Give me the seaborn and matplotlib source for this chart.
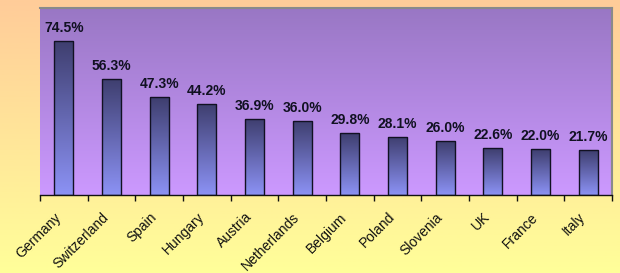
import numpy as np
import pandas as pd
import matplotlib
matplotlib.use("Agg")
import matplotlib.pyplot as plt
from matplotlib.colors import LinearSegmentedColormap
import seaborn as sns

countries = ["Germany", "Switzerland", "Spain", "Hungary", "Austria", "Netherlands",
             "Belgium", "Poland", "Slovenia", "UK", "France", "Italy"]
values = [74.5, 56.3, 47.3, 44.2, 36.9, 36.0, 29.8, 28.1, 26.0, 22.6, 22.0, 21.7]

df = pd.DataFrame({"country": countries, "value": values})

sns.set_theme(style="white")
plt.rcParams['font.family'] = ['Liberation Sans', 'DejaVu Sans']

fig = plt.figure(figsize=(6.2, 2.73), dpi=100)

# figure background gradient (orange top -> yellow bottom)
bg = fig.add_axes([0, 0, 1, 1], zorder=-10)
bg_cmap = LinearSegmentedColormap.from_list("bg", ["#FFFF99", "#FFCC99"])
grad = np.linspace(0, 1, 256).reshape(-1, 1)
bg.imshow(grad, aspect="auto", cmap=bg_cmap, origin="lower", extent=[0, 1, 0, 1])
bg.set_axis_off()

ax = fig.add_axes([40/620, 1 - 195/273, 572/620, 187/273])
ax.patch.set_alpha(0)

# plot area gradient
pa_cmap = LinearSegmentedColormap.from_list("pa", ["#CC99FF", "#9977C4"])
ax.imshow(grad, aspect="auto", cmap=pa_cmap, origin="lower",
          extent=[0, 1, 0, 1], transform=ax.transAxes, zorder=0)

sns.barplot(data=df, x="country", y="value", ax=ax, width=0.4,
            color="#555588", edgecolor="#111122", linewidth=1.0, zorder=2)

bar_cmap = LinearSegmentedColormap.from_list("bar", ["#8C92F5", "#3E3E6E"])
for p in ax.patches:
    x0, y0 = p.get_x(), p.get_y()
    w, h = p.get_width(), p.get_height()
    im = ax.imshow(grad, aspect="auto", cmap=bar_cmap, origin="lower",
                   extent=[x0, x0 + w, y0, y0 + h], zorder=2.5)
    im.set_clip_path(p)
    p.set_facecolor("none")
    p.set_zorder(3)

for i, v in enumerate(values):
    ax.annotate(f"{v:.1f}%", xy=(i, v), xytext=(0, 6.5), textcoords="offset points",
                ha="center", va="baseline", fontsize=10, fontweight="bold",
                color="#111122", zorder=4)

ax.set_xlim(-0.5, len(countries) - 0.5)
ax.set_ylim(0, 90.4)
ax.set_xlabel("")
ax.set_ylabel("")
ax.set_yticks([])
ax.set_xticks(range(len(countries)))
ax.set_xticklabels([])
ax.tick_params(axis="x", which="major", length=0)
for i, name in enumerate(countries):
    ax.annotate(name, xy=(i, 0), xycoords=("data", "axes fraction"),
                xytext=(-7.2, -10.8), textcoords="offset points",
                rotation=45, ha="right", va="top", rotation_mode="anchor",
                fontsize=10, color="#111111", annotation_clip=False)
ax.set_xticks(np.arange(-0.5, len(countries), 1.0), minor=True)
ax.tick_params(axis="x", which="minor", length=4, width=1, color="#111111",
               direction="out", bottom=True)

ax.spines["bottom"].set_color("#111111")
ax.spines["bottom"].set_linewidth(1.0)
ax.spines["left"].set_visible(False)
ax.spines["top"].set_color("#8A8A8A")
ax.spines["top"].set_linewidth(1.5)
ax.spines["right"].set_color("#8A8A8A")
ax.spines["right"].set_linewidth(1.5)

fig.savefig("out.png", dpi=100)
